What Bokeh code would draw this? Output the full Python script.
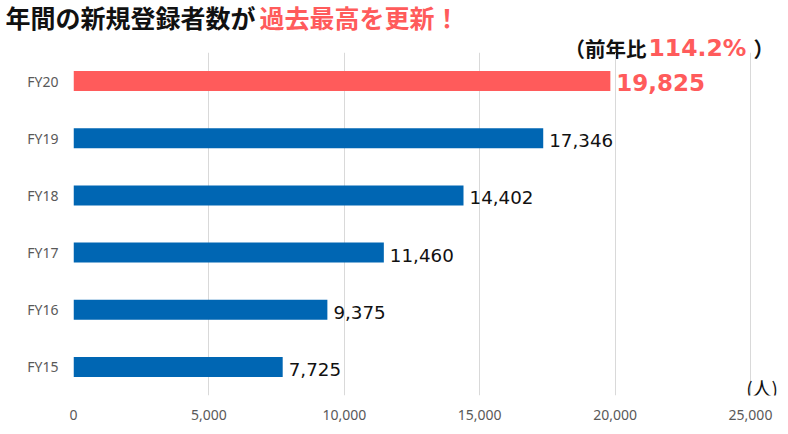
from bokeh.plotting import figure
from bokeh.models import ColumnDataSource, FactorRange, Range1d, FixedTicker, NumeralTickFormatter
from bokeh.core.properties import value
from bokeh.embed import file_html
from bokeh.resources import INLINE

# ---- data ----
categories = ["FY15", "FY16", "FY17", "FY18", "FY19", "FY20"]
registrations = [7725, 9375, 11460, 14402, 17346, 19825]
value_labels = ["7,725", "9,375", "11,460", "14,402", "17,346", "19,825"]
x_ticks = [0, 5000, 10000, 15000, 20000, 25000]
highlight = "FY20"
yoy_text = "114.2%"
title_black = "年間の新規登録者数が"
title_red = "過去最高を更新！"
unit_text = "(人)"

# ---- style ----
RED = "#FF5B5B"
BLUE = "#0066B3"
GRAY = "#595959"
INK = "#111111"
W = 780
HEADER_H = 62            # header canvas height
OVERLAP = 10             # chart is pulled up over the header's bottom strip
LEFT = 73
FRAME_W = W - LEFT
PX_PER_25K = 677         # pixel width of 0..25000 on the value axis
CJK = value("Noto Sans CJK JP")

# ---------------- header (title + year-over-year) ----------------
h = figure(width=W, height=HEADER_H, x_range=Range1d(0, W), y_range=Range1d(HEADER_H, 0),
           x_axis_type=None, y_axis_type=None, min_border=0,
           output_backend="svg", toolbar_location=None)
h.outline_line_color = None

h.text(x=[5], y=[16], text=[title_black], text_font=CJK, text_font_style="bold",
       text_font_size="25px", text_color=INK, text_baseline="middle")
h.text(x=[259], y=[16], text=[title_red], text_font=CJK, text_font_style="bold",
       text_font_size="25px", text_color=RED, text_baseline="middle")
h.text(x=[564], y=[47.5], text=["（前年比"], text_font=CJK, text_font_style="bold",
       text_font_size="20.5px", text_color=INK, text_baseline="middle")
h.text(x=[648], y=[47], text=[yoy_text], text_font=value("DejaVu Sans"), text_font_style="bold",
       text_font_size="23.5px", text_color=RED, text_baseline="middle")
h.text(x=[753], y=[47.5], text=["）"], text_font=CJK, text_font_style="bold",
       text_font_size="20.5px", text_color=INK, text_baseline="middle")

# ---------------- main bar chart ----------------
colors = [RED if c == highlight else BLUE for c in categories]
src = ColumnDataSource(dict(y=categories, x=registrations, color=colors, label=value_labels))
norm_idx = [i for i, c in enumerate(categories) if c != highlight]
hi_idx = [i for i, c in enumerate(categories) if c == highlight]
src_norm = ColumnDataSource(dict(y=[categories[i] for i in norm_idx],
                                 x=[registrations[i] for i in norm_idx],
                                 label=[value_labels[i] for i in norm_idx]))
src_hi = ColumnDataSource(dict(y=[categories[i] for i in hi_idx],
                               x=[registrations[i] for i in hi_idx],
                               label=[value_labels[i] for i in hi_idx]))

p = figure(y_range=FactorRange(factors=categories, range_padding=0),
           x_range=Range1d(0, x_ticks[-1] * FRAME_W / PX_PER_25K),
           frame_width=FRAME_W, frame_height=343,
           min_border_left=LEFT, min_border_right=0, min_border_top=0, min_border_bottom=31,
           margin=(-OVERLAP, 0, 0, 0),
           output_backend="svg", toolbar_location=None)
p.outline_line_color = None
p.background_fill_alpha = 0
p.border_fill_alpha = 0

p.hbar(y="y", right="x", left=0, height=0.35, color="color", line_color=None, source=src)

p.xaxis.ticker = FixedTicker(ticks=x_ticks)
p.xaxis.formatter = NumeralTickFormatter(format="0,0")
for ax in (p.xaxis[0], p.yaxis[0]):
    ax.axis_line_color = None
    ax.major_tick_line_color = None
    ax.minor_tick_line_color = None
    ax.major_tick_out = 0
    ax.major_tick_in = 0
    ax.minor_tick_out = 0
    ax.major_label_text_font = "Noto Sans"
    ax.major_label_text_font_size = "14px"
    ax.major_label_text_color = GRAY
p.xaxis.major_label_standoff = 14
p.yaxis.major_label_standoff = 15
p.xgrid.grid_line_color = "#D9D9D9"
p.ygrid.grid_line_color = None

# value labels
p.text(x="x", y="y", text="label", source=src_norm, x_offset=6, y_offset=2.5,
       text_baseline="middle", text_align="left", text_font=value("DejaVu Sans"),
       text_font_size="18.3px", text_color=INK)
p.text(x="x", y="y", text="label", source=src_hi, x_offset=6, y_offset=1,
       text_baseline="middle", text_align="left", text_font=value("DejaVu Sans"),
       text_font_style="bold", text_font_size="23px", text_color=RED)

# unit
p.text(x=[x_ticks[-1]], y=[categories[0]], text=[unit_text], x_offset=27.5, y_offset=20.5,
       text_baseline="middle", text_align="right", text_font=CJK,
       text_font_size="19px", text_color=INK)

# two separate roots so the header is not frame-aligned with the chart
open("out.html", "w").write(file_html([h, p], INLINE))
